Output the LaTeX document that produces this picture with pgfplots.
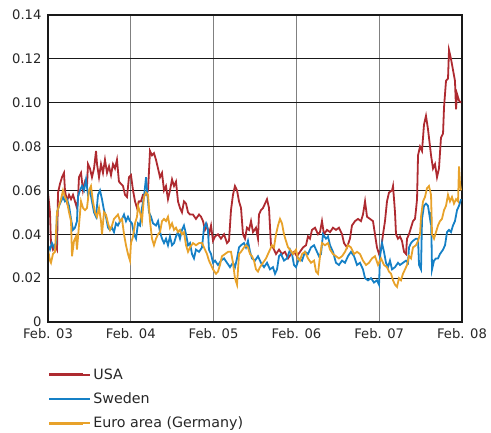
\documentclass[border=0pt]{standalone}
\usepackage{pgfplots}
\pgfplotsset{compat=1.18}
\usepackage{pgfplotstable}
\usepackage{fontspec}
\setmainfont{DejaVu Sans}
\definecolor{usared}{HTML}{AE2A30}
\definecolor{swblue}{HTML}{1580C6}
\definecolor{euorange}{HTML}{E8A22A}

\pgfplotstableread{
t v
0.000 0.059
0.024 0.050
0.036 0.036
0.060 0.033
0.085 0.035
0.109 0.033
0.121 0.059
0.145 0.063
0.169 0.066
0.193 0.068
0.205 0.060
0.229 0.055
0.254 0.058
0.278 0.056
0.302 0.058
0.326 0.055
0.350 0.052
0.362 0.056
0.374 0.066
0.399 0.068
0.423 0.060
0.447 0.064
0.471 0.062
0.483 0.072
0.507 0.070
0.531 0.066
0.556 0.070
0.580 0.078
0.592 0.072
0.616 0.066
0.640 0.072
0.664 0.068
0.688 0.074
0.713 0.068
0.737 0.071
0.761 0.067
0.785 0.072
0.809 0.070
0.833 0.074
0.857 0.064
0.882 0.063
0.906 0.062
0.930 0.058
0.954 0.057
0.978 0.066
1.002 0.067
1.027 0.060
1.051 0.055
1.075 0.052
1.099 0.055
1.123 0.055
1.147 0.058
1.184 0.058
1.208 0.060
1.232 0.078
1.256 0.076
1.280 0.077
1.304 0.074
1.329 0.070
1.353 0.066
1.377 0.068
1.401 0.060
1.425 0.062
1.449 0.056
1.473 0.060
1.498 0.065
1.522 0.062
1.546 0.064
1.570 0.055
1.594 0.052
1.618 0.050
1.642 0.055
1.667 0.054
1.691 0.050
1.715 0.049
1.751 0.049
1.787 0.047
1.824 0.049
1.848 0.048
1.872 0.046
1.896 0.042
1.920 0.044
1.944 0.040
1.969 0.044
1.993 0.037
2.017 0.039
2.053 0.040
2.089 0.038
2.126 0.040
2.162 0.036
2.186 0.037
2.210 0.051
2.234 0.058
2.258 0.062
2.283 0.060
2.307 0.055
2.331 0.052
2.355 0.040
2.379 0.038
2.403 0.043
2.428 0.042
2.452 0.046
2.476 0.041
2.512 0.043
2.536 0.038
2.548 0.049
2.572 0.051
2.597 0.052
2.621 0.054
2.645 0.056
2.669 0.052
2.693 0.035
2.717 0.034
2.754 0.031
2.790 0.033
2.826 0.031
2.862 0.032
2.899 0.029
2.935 0.031
2.971 0.032
3.007 0.030
3.043 0.032
3.080 0.034
3.116 0.035
3.140 0.039
3.164 0.038
3.188 0.042
3.225 0.043
3.261 0.040
3.285 0.041
3.309 0.046
3.333 0.040
3.370 0.042
3.406 0.041
3.442 0.043
3.478 0.042
3.514 0.043
3.551 0.040
3.575 0.036
3.611 0.034
3.647 0.038
3.671 0.044
3.708 0.046
3.744 0.047
3.780 0.046
3.804 0.049
3.829 0.055
3.853 0.048
3.889 0.047
3.925 0.046
3.949 0.040
3.973 0.034
3.998 0.031
4.022 0.033
4.046 0.040
4.070 0.046
4.094 0.055
4.118 0.059
4.155 0.060
4.167 0.062
4.191 0.050
4.203 0.040
4.227 0.038
4.251 0.039
4.275 0.037
4.300 0.032
4.324 0.031
4.336 0.038
4.360 0.040
4.384 0.043
4.408 0.046
4.432 0.047
4.444 0.051
4.457 0.056
4.469 0.076
4.493 0.080
4.517 0.078
4.541 0.090
4.565 0.094
4.589 0.088
4.614 0.080
4.626 0.076
4.650 0.070
4.674 0.072
4.698 0.066
4.722 0.070
4.746 0.084
4.771 0.086
4.783 0.098
4.807 0.110
4.831 0.111
4.843 0.124
4.867 0.120
4.891 0.115
4.915 0.110
4.928 0.097
4.940 0.104
4.964 0.101
4.988 0.100
}\usadata

\pgfplotstableread{
t v
0.000 0.035
0.024 0.033
0.048 0.036
0.072 0.034
0.097 0.036
0.109 0.050
0.133 0.053
0.157 0.055
0.181 0.057
0.205 0.055
0.229 0.056
0.254 0.053
0.278 0.047
0.302 0.042
0.326 0.043
0.350 0.046
0.362 0.057
0.386 0.060
0.411 0.062
0.435 0.060
0.459 0.065
0.483 0.058
0.507 0.060
0.531 0.055
0.556 0.050
0.580 0.048
0.604 0.058
0.628 0.060
0.652 0.056
0.676 0.051
0.700 0.048
0.725 0.043
0.749 0.042
0.773 0.043
0.797 0.041
0.821 0.045
0.845 0.044
0.870 0.046
0.894 0.047
0.918 0.049
0.942 0.046
0.966 0.048
0.990 0.046
1.014 0.045
1.039 0.040
1.063 0.038
1.087 0.045
1.111 0.044
1.135 0.052
1.159 0.057
1.184 0.066
1.196 0.060
1.220 0.050
1.244 0.048
1.268 0.045
1.304 0.044
1.329 0.046
1.353 0.041
1.377 0.038
1.401 0.036
1.425 0.038
1.449 0.035
1.473 0.039
1.498 0.035
1.522 0.036
1.546 0.039
1.570 0.041
1.594 0.038
1.618 0.042
1.642 0.044
1.667 0.040
1.691 0.035
1.715 0.036
1.739 0.031
1.763 0.029
1.787 0.033
1.824 0.032
1.860 0.034
1.884 0.043
1.908 0.045
1.932 0.042
1.944 0.033
1.969 0.031
1.993 0.027
2.017 0.028
2.053 0.026
2.089 0.028
2.126 0.029
2.162 0.027
2.198 0.025
2.234 0.027
2.258 0.025
2.283 0.029
2.307 0.034
2.331 0.035
2.367 0.036
2.391 0.034
2.415 0.037
2.440 0.032
2.464 0.029
2.500 0.028
2.536 0.030
2.572 0.027
2.609 0.025
2.645 0.027
2.681 0.024
2.717 0.025
2.742 0.022
2.766 0.024
2.790 0.030
2.814 0.031
2.850 0.028
2.886 0.029
2.923 0.033
2.947 0.031
2.971 0.026
2.995 0.025
3.031 0.029
3.068 0.028
3.104 0.032
3.140 0.031
3.176 0.034
3.213 0.035
3.237 0.033
3.273 0.030
3.297 0.031
3.321 0.040
3.357 0.038
3.382 0.039
3.406 0.035
3.442 0.032
3.478 0.027
3.514 0.026
3.551 0.028
3.587 0.027
3.623 0.030
3.659 0.032
3.696 0.030
3.732 0.026
3.768 0.027
3.804 0.024
3.829 0.020
3.865 0.019
3.901 0.020
3.937 0.018
3.973 0.019
3.998 0.017
4.010 0.030
4.034 0.036
4.058 0.032
4.082 0.027
4.106 0.025
4.130 0.028
4.155 0.024
4.191 0.025
4.227 0.027
4.251 0.026
4.287 0.027
4.324 0.028
4.348 0.027
4.360 0.034
4.384 0.036
4.408 0.037
4.444 0.038
4.469 0.038
4.481 0.026
4.505 0.024
4.517 0.047
4.541 0.053
4.565 0.054
4.589 0.053
4.614 0.047
4.626 0.050
4.638 0.024
4.662 0.028
4.686 0.029
4.710 0.029
4.734 0.031
4.771 0.033
4.795 0.035
4.819 0.041
4.843 0.042
4.867 0.041
4.891 0.044
4.915 0.046
4.940 0.051
4.964 0.053
4.988 0.056
}\swedata

\pgfplotstableread{
t v
0.000 0.033
0.024 0.028
0.036 0.027
0.060 0.031
0.085 0.032
0.109 0.050
0.133 0.053
0.157 0.056
0.181 0.060
0.205 0.057
0.229 0.055
0.254 0.050
0.278 0.046
0.290 0.030
0.314 0.037
0.338 0.039
0.350 0.033
0.374 0.044
0.399 0.055
0.423 0.052
0.447 0.051
0.471 0.052
0.495 0.060
0.519 0.062
0.543 0.055
0.568 0.050
0.592 0.048
0.616 0.052
0.640 0.046
0.652 0.040
0.676 0.050
0.700 0.049
0.725 0.045
0.749 0.042
0.773 0.044
0.797 0.047
0.821 0.048
0.845 0.049
0.870 0.046
0.894 0.047
0.918 0.040
0.942 0.035
0.966 0.031
0.990 0.028
1.002 0.036
1.027 0.039
1.051 0.045
1.075 0.048
1.087 0.053
1.111 0.050
1.135 0.046
1.159 0.057
1.184 0.059
1.208 0.058
1.232 0.046
1.256 0.038
1.280 0.035
1.304 0.038
1.329 0.040
1.353 0.041
1.377 0.046
1.401 0.047
1.425 0.046
1.449 0.048
1.473 0.043
1.498 0.045
1.522 0.042
1.546 0.043
1.570 0.041
1.594 0.042
1.618 0.040
1.642 0.041
1.667 0.035
1.691 0.032
1.715 0.034
1.751 0.036
1.787 0.035
1.824 0.036
1.860 0.036
1.896 0.033
1.920 0.031
1.944 0.028
1.969 0.026
1.993 0.024
2.029 0.022
2.053 0.023
2.077 0.026
2.101 0.030
2.138 0.031
2.174 0.032
2.210 0.032
2.234 0.027
2.258 0.020
2.283 0.017
2.307 0.031
2.331 0.032
2.367 0.034
2.391 0.035
2.415 0.034
2.440 0.031
2.464 0.030
2.488 0.028
2.512 0.024
2.536 0.023
2.560 0.025
2.597 0.027
2.633 0.029
2.657 0.031
2.681 0.033
2.705 0.035
2.729 0.034
2.754 0.040
2.778 0.044
2.802 0.047
2.826 0.045
2.850 0.040
2.874 0.037
2.899 0.034
2.923 0.033
2.959 0.031
2.995 0.033
3.019 0.029
3.043 0.028
3.068 0.031
3.104 0.032
3.140 0.029
3.176 0.027
3.213 0.028
3.237 0.023
3.261 0.022
3.285 0.030
3.309 0.036
3.345 0.035
3.382 0.036
3.406 0.033
3.442 0.031
3.478 0.030
3.514 0.029
3.551 0.030
3.587 0.032
3.623 0.035
3.659 0.034
3.696 0.031
3.732 0.032
3.768 0.031
3.804 0.028
3.841 0.026
3.877 0.027
3.913 0.029
3.949 0.030
3.986 0.026
4.022 0.029
4.058 0.026
4.094 0.025
4.118 0.023
4.143 0.022
4.167 0.019
4.191 0.017
4.215 0.016
4.239 0.020
4.263 0.019
4.287 0.022
4.312 0.024
4.336 0.026
4.360 0.030
4.384 0.029
4.408 0.034
4.444 0.035
4.469 0.037
4.493 0.040
4.505 0.048
4.529 0.055
4.553 0.057
4.577 0.061
4.601 0.062
4.626 0.058
4.638 0.040
4.662 0.038
4.686 0.041
4.710 0.044
4.734 0.046
4.758 0.047
4.783 0.051
4.807 0.053
4.831 0.058
4.855 0.055
4.879 0.057
4.903 0.054
4.928 0.056
4.952 0.055
4.964 0.071
4.976 0.063
4.988 0.060
}\eurdata

\begin{document}
\begin{tikzpicture}
\useasboundingbox (0,0) rectangle (491bp,433bp);
\begin{axis}[
  at={(48bp,111bp)}, anchor=south west,
  scale only axis, width=414bp, height=307bp,
  xmin=0, xmax=5, ymin=0, ymax=0.14,
  xtick={0,1,2,3,4,5},
  xticklabels={Feb. 03,Feb. 04,Feb. 05,Feb. 06,Feb. 07,Feb. 08},
  ytick={0,0.02,0.04,0.06,0.08,0.10,0.12,0.14},
  yticklabels={0,0.02,0.04,0.06,0.08,0.10,0.12,0.14},
  major tick length=0pt,
  tick label style={font=\fontsize{13.2}{15}\selectfont, text=black!85},
  xticklabel style={yshift=-3bp},
  yticklabel style={xshift=-3bp},
  xmajorgrids, ymajorgrids,
  x grid style={draw=black!50, line width=1.3bp},
  y grid style={draw=black!90, line width=1.1bp},
  axis line style={draw=black!90, line width=1.1bp},
  legend style={draw=none, fill=none, at={(axis description cs:0,-0.145)}, anchor=north west,
    font=\fontsize{14.3}{16}\selectfont, row sep=8bp, inner sep=0pt, text=black!85},
  legend cell align=left,
  legend image code/.code={\draw[#1, line width=2.6bp] (0bp,0bp) -- (34bp,0bp); \path (0bp,0bp) -- (41bp,0bp);},
]
\addplot[usared, line width=1.8bp] table[x=t, y=v] {\usadata};
\addlegendentry{USA}
\addplot[swblue, line width=1.8bp] table[x=t, y=v] {\swedata};
\addlegendentry{Sweden}
\addplot[euorange, line width=1.8bp] table[x=t, y=v] {\eurdata};
\addlegendentry{Euro area (Germany)}
\draw[black!90, line width=2.2bp] (rel axis cs:0,1) -- (rel axis cs:0,0) -- (rel axis cs:1,0);
\end{axis}
\end{tikzpicture}
\end{document}
